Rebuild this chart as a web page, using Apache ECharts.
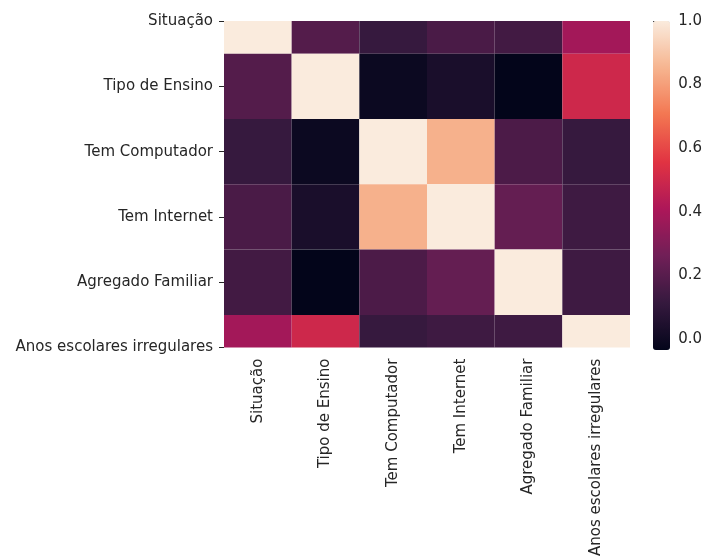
<!DOCTYPE html>
<html>
<head>
<meta charset="utf-8">
<script src="https://cdn.jsdelivr.net/npm/echarts@6/dist/echarts.min.js"></script>
<style>
html, body { margin: 0; padding: 0; background: #fff; }
#main { width: 705px; height: 559px; }
</style>
</head>
<body>
<div id="main"></div>
<script>
var names = ['Situação', 'Tipo de Ensino', 'Tem Computador', 'Tem Internet', 'Agregado Familiar', 'Anos escolares irregulares'];

// correlation matrix, one row per variable
var rowSituacao = [1.0, 0.19, 0.115, 0.165, 0.145, 0.385];
var rowTipo = [0.19, 1.0, -0.008, 0.033, -0.035, 0.5];
var rowComputador = [0.115, -0.008, 1.0, 0.845, 0.17, 0.115];
var rowInternet = [0.165, 0.033, 0.845, 1.0, 0.23, 0.135];
var rowAgregado = [0.145, -0.035, 0.17, 0.23, 1.0, 0.135];
var rowAnos = [0.385, 0.5, 0.115, 0.135, 0.135, 1.0];

var colorbarTicks = [0, 0.2, 0.4, 0.6, 0.8, 1.0];
var vmin = -0.035, vmax = 1.0;

// rocket colormap
var rocket = ['#03051a', '#35193e', '#701f57', '#ad1759', '#e13342', '#f37651', '#f6b48f', '#faebdd'];

var rows = [rowSituacao, rowTipo, rowComputador, rowInternet, rowAgregado, rowAnos];
var data = [];
rows.forEach(function (r, j) {
    r.forEach(function (v, i) {
        data.push([i, j, v]);
    });
});

var txt = '#262626';
var font = 'DejaVu Sans';
var fs = 15;

var myChart = echarts.init(document.getElementById('main'));
var option = {
    backgroundColor: '#fff',
    animation: false,
    grid: [
        { left: 224, right: 75, top: 21, bottom: 209 },
        { left: 653, width: 17, top: 21, height: 329 }
    ],
    xAxis: [{
        type: 'category',
        gridIndex: 0,
        data: names,
        boundaryGap: true,
        axisLine: { show: false },
        axisTick: { alignWithLabel: true, length: 5, lineStyle: { color: txt } },
        axisLabel: { rotate: 90, margin: 11, color: txt, fontFamily: font, fontSize: fs },
        splitLine: { show: false }
    }, {
        type: 'value',
        gridIndex: 1,
        show: false
    }],
    yAxis: [{
        type: 'value',
        gridIndex: 0,
        min: 0,
        max: 5,
        interval: 1,
        inverse: true,
        axisLine: { show: false },
        axisTick: { show: true, length: 5, lineStyle: { color: txt } },
        axisLabel: {
            margin: 11, color: txt, fontFamily: font, fontSize: fs,
            padding: [6, 0, 0, 0],
            formatter: function (v) { return names[v]; }
        },
        splitLine: { show: false }
    }, {
        type: 'value',
        gridIndex: 1,
        position: 'right',
        min: vmin,
        max: vmax,
        axisLine: { show: false },
        axisTick: { show: true, length: 5, customValues: colorbarTicks, lineStyle: { color: txt } },
        axisLabel: {
            margin: 9, color: txt, fontFamily: font, fontSize: fs,
            padding: [6, 0, 0, 0],
            customValues: colorbarTicks,
            formatter: function (v) { return v.toFixed(1); }
        },
        splitLine: { show: false }
    }],
    visualMap: {
        type: 'continuous',
        seriesIndex: 0,
        dimension: 2,
        min: vmin,
        max: vmax,
        calculable: false,
        orient: 'vertical',
        left: 653,
        top: 21,
        padding: 0,
        itemWidth: 17,
        itemHeight: 329,
        text: null,
        showLabel: false,
        hoverLink: false,
        inRange: { color: rocket }
    },
    series: [{
        type: 'custom',
        xAxisIndex: 0,
        yAxisIndex: 0,
        clip: true,
        encode: { x: 0, y: 1 },
        data: data,
        renderItem: function (params, api) {
            var c = api.coord([api.value(0), api.value(1)]);
            var s = api.size([1, 1]);
            return {
                type: 'rect',
                shape: { x: c[0] - s[0] / 2, y: c[1] - s[1] / 2, width: s[0], height: s[1] },
                style: { fill: api.visual('color') }
            };
        }
    }]
};
myChart.setOption(option);
</script>
</body>
</html>
